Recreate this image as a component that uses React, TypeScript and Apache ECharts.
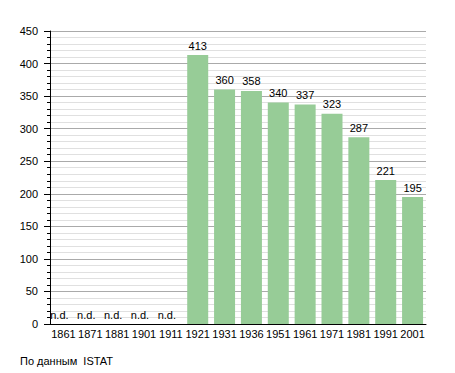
import React, { useEffect, useRef } from "react";
import * as echarts from "echarts";

const years = ["1861", "1871", "1881", "1901", "1911", "1921", "1931", "1936", "1951", "1961", "1971", "1981", "1991", "2001"];
const population: (number | null)[] = [null, null, null, null, null, 413, 360, 358, 340, 337, 323, 287, 221, 195];
const yTicks = [0, 50, 100, 150, 200, 250, 300, 350, 400, 450];
const sourceNote = "По данным  ISTAT";

export default function App() {
  const ref = useRef<HTMLDivElement>(null);
  useEffect(() => {
    if (!ref.current) return;
    const chart = echarts.init(ref.current, null, { renderer: "svg" });
    const font = "'Liberation Sans', Arial, sans-serif";
    const data = population.map((v) =>
      v === null
        ? { value: 0, label: { formatter: "n.d.", offset: [-4, 0] } }
        : { value: v }
    );
    chart.setOption({
      animation: false,
      textStyle: { fontFamily: font },
      grid: { left: 50, right: 29, top: 31, bottom: 49, containLabel: false },
      xAxis: {
        type: "category",
        data: years,
        axisLine: { show: true, lineStyle: { color: "#000", width: 1 } },
        axisTick: { show: false },
        axisLabel: { color: "#000", fontSize: 11, margin: 4, fontFamily: font, interval: 0 },
        splitLine: { show: false },
      },
      yAxis: {
        type: "value",
        min: yTicks[0],
        max: yTicks[yTicks.length - 1],
        interval: 50,
        axisLine: { show: true, lineStyle: { color: "#000", width: 1 } },
        axisTick: { show: true, length: 6, lineStyle: { color: "#000" } },
        minorTick: { show: true, splitNumber: 5, length: 3, lineStyle: { color: "#000" } },
        axisLabel: { color: "#000", fontSize: 11, margin: 12, fontFamily: font },
        splitLine: { show: true, lineStyle: { color: "#aaaaaa", width: 1 } },
        minorSplitLine: { show: true, lineStyle: { color: "#e0e0e0", width: 1 } },
      },
      series: [
        {
          type: "bar",
          data,
          barWidth: 21,
          itemStyle: { color: "#97cc97" },
          label: {
            show: true,
            position: "top",
            distance: 4,
            color: "#000",
            fontSize: 11,
            fontFamily: font,
          },
        },
      ],
      graphic: [
        {
          type: "text",
          left: 20,
          top: 355,
          style: { text: sourceNote, fill: "#000", fontSize: 11, fontFamily: font },
        },
      ],
    });
    return () => chart.dispose();
  }, []);
  return <div ref={ref} style={{ width: 455, height: 373, position: "absolute", left: 0, top: 0 }} />;
}
